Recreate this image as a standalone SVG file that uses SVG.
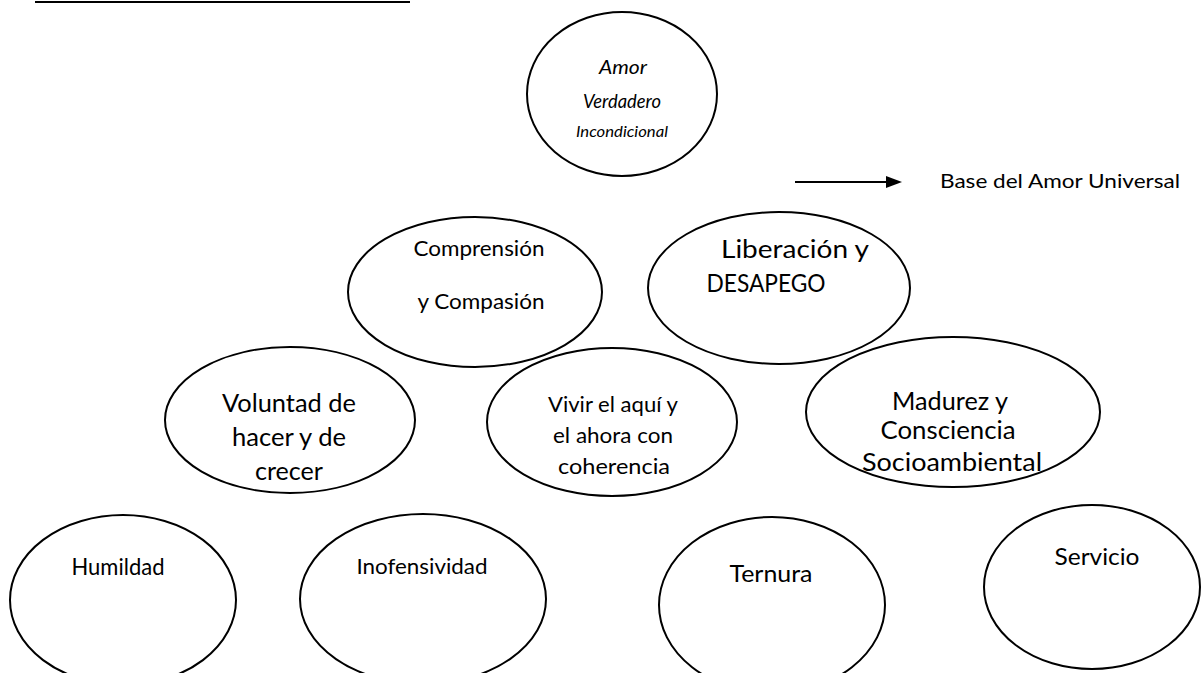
<svg xmlns="http://www.w3.org/2000/svg" width="1204" height="673" viewBox="0 0 1204 673">
<style>
.n{fill:#fff;stroke:#000;stroke-width:2}
.t{font-family:Lato,"Open Sans","Liberation Sans",sans-serif;fill:#000;text-anchor:middle}
.i{font-style:italic}
</style>
<defs>
<marker id="ah" markerWidth="16" markerHeight="12" refX="1" refY="6" orient="auto" markerUnits="userSpaceOnUse">
<path d="M0,0 L16,6 L0,12 Z" fill="#000"/>
</marker>
<clipPath id="cv"><ellipse cx="290" cy="420" rx="125" ry="72"/></clipPath>
</defs>
<rect width="1204" height="673" fill="#fff"/>
<line x1="35" y1="2" x2="410" y2="2" stroke="#000" stroke-width="2"/>
<g id="connectors">
<line x1="795" y1="182" x2="887" y2="182" stroke="#000" stroke-width="2" marker-end="url(#ah)"/>
</g>
<text class="t" x="1060" y="188" font-size="20" textLength="240" lengthAdjust="spacingAndGlyphs">Base del Amor Universal</text>
<g id="n-amor">
<ellipse class="n" cx="622" cy="94" rx="95" ry="82"/>
<text class="t i" x="623" y="74" font-size="19" textLength="48" lengthAdjust="spacingAndGlyphs">Amor</text>
<text class="t i" x="622" y="108" font-size="19" textLength="78" lengthAdjust="spacingAndGlyphs">Verdadero</text>
<text class="t i" x="622" y="137" font-size="16" textLength="92" lengthAdjust="spacingAndGlyphs">Incondicional</text>
</g>
<g id="n-comprension">
<ellipse class="n" cx="475" cy="292" rx="127" ry="75"/>
<text class="t" x="479" y="256" font-size="22" textLength="131" lengthAdjust="spacingAndGlyphs">Comprensión</text>
<text class="t" x="481" y="309" font-size="22" textLength="127" lengthAdjust="spacingAndGlyphs">y Compasión</text>
</g>
<g id="n-liberacion">
<ellipse class="n" cx="779" cy="288" rx="131" ry="76"/>
<text class="t" x="795" y="258" font-size="25" textLength="148" lengthAdjust="spacingAndGlyphs">Liberación y</text>
<text class="t" x="766" y="292" font-size="25" textLength="119" lengthAdjust="spacingAndGlyphs">DESAPEGO</text>
</g>
<g id="n-voluntad">
<ellipse class="n" cx="290" cy="420" rx="125" ry="73"/>
<text class="t" x="289" y="412" font-size="25" textLength="134" lengthAdjust="spacingAndGlyphs">Voluntad de</text>
<text class="t" x="289" y="446" font-size="25" textLength="114" lengthAdjust="spacingAndGlyphs">hacer y de</text>
<text class="t" x="289" y="480" font-size="25" textLength="68" lengthAdjust="spacingAndGlyphs" clip-path="url(#cv)">crecer</text>
</g>
<g id="n-vivir">
<ellipse class="n" cx="612" cy="422" rx="125" ry="74"/>
<text class="t" x="613" y="412" font-size="22" textLength="130" lengthAdjust="spacingAndGlyphs">Vivir el aquí y</text>
<text class="t" x="613" y="443" font-size="22" textLength="120" lengthAdjust="spacingAndGlyphs">el ahora con</text>
<text class="t" x="614" y="474" font-size="22" textLength="112" lengthAdjust="spacingAndGlyphs">coherencia</text>
</g>
<g id="n-madurez">
<ellipse class="n" cx="953" cy="412" rx="147" ry="75"/>
<text class="t" x="950" y="410" font-size="25" textLength="116" lengthAdjust="spacingAndGlyphs">Madurez y</text>
<text class="t" x="948" y="439" font-size="25" textLength="135" lengthAdjust="spacingAndGlyphs">Consciencia</text>
<text class="t" x="952" y="471" font-size="25" textLength="180" lengthAdjust="spacingAndGlyphs">Socioambiental</text>
</g>
<g id="n-humildad">
<ellipse class="n" cx="123" cy="600" rx="113" ry="85"/>
<text class="t" x="118" y="575" font-size="23" textLength="93" lengthAdjust="spacingAndGlyphs">Humildad</text>
</g>
<g id="n-inofensividad">
<ellipse class="n" cx="423" cy="599" rx="123" ry="85"/>
<text class="t" x="422" y="574" font-size="22" textLength="131" lengthAdjust="spacingAndGlyphs">Inofensividad</text>
</g>
<g id="n-ternura">
<ellipse class="n" cx="772" cy="605" rx="113" ry="88"/>
<text class="t" x="771" y="582" font-size="23" textLength="83" lengthAdjust="spacingAndGlyphs">Ternura</text>
</g>
<g id="n-servicio">
<ellipse class="n" cx="1092" cy="587" rx="108" ry="82"/>
<text class="t" x="1097" y="565" font-size="23" textLength="85" lengthAdjust="spacingAndGlyphs">Servicio</text>
</g>
</svg>
